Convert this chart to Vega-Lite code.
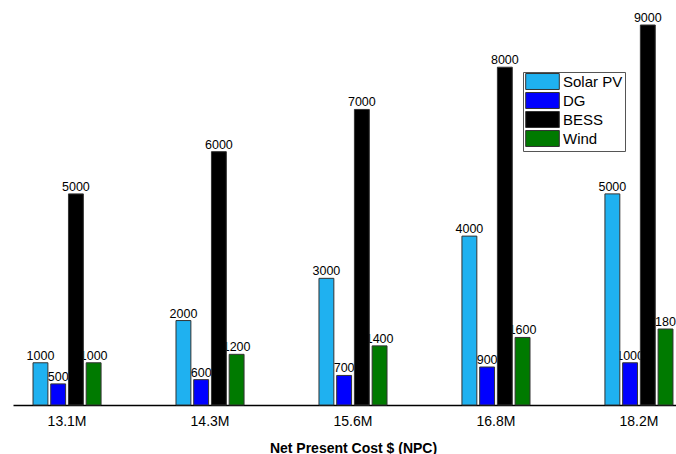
{
  "$schema": "https://vega.github.io/schema/vega-lite/v6.json",
  "width": 663,
  "height": 380,
  "autosize": {"type": "none"},
  "padding": {"left": 13, "top": 25, "right": 0, "bottom": 49},
  "background": "white",
  "data": {
    "values": [
      {"npc": "13.1M", "source": "Solar PV", "value": 1000, "label": "1000"},
      {"npc": "13.1M", "source": "DG", "value": 500, "label": "500"},
      {"npc": "13.1M", "source": "BESS", "value": 5000, "label": "5000"},
      {"npc": "13.1M", "source": "Wind", "value": 1000, "label": "1000"},
      {"npc": "14.3M", "source": "Solar PV", "value": 2000, "label": "2000"},
      {"npc": "14.3M", "source": "DG", "value": 600, "label": "600"},
      {"npc": "14.3M", "source": "BESS", "value": 6000, "label": "6000"},
      {"npc": "14.3M", "source": "Wind", "value": 1200, "label": "1200"},
      {"npc": "15.6M", "source": "Solar PV", "value": 3000, "label": "3000"},
      {"npc": "15.6M", "source": "DG", "value": 700, "label": "700"},
      {"npc": "15.6M", "source": "BESS", "value": 7000, "label": "7000"},
      {"npc": "15.6M", "source": "Wind", "value": 1400, "label": "1400"},
      {"npc": "16.8M", "source": "Solar PV", "value": 4000, "label": "4000"},
      {"npc": "16.8M", "source": "DG", "value": 900, "label": "900"},
      {"npc": "16.8M", "source": "BESS", "value": 8000, "label": "8000"},
      {"npc": "16.8M", "source": "Wind", "value": 1600, "label": "1600"},
      {"npc": "18.2M", "source": "Solar PV", "value": 5000, "label": "5000"},
      {"npc": "18.2M", "source": "DG", "value": 1000, "label": "1000"},
      {"npc": "18.2M", "source": "BESS", "value": 9000, "label": "9000"},
      {"npc": "18.2M", "source": "Wind", "value": 1800, "label": "180"}
    ]
  },
  "encoding": {
    "x": {
      "field": "npc",
      "type": "nominal",
      "sort": ["13.1M", "14.3M", "15.6M", "16.8M", "18.2M"],
      "scale": {"range": [0, 680], "paddingInner": 0.524, "paddingOuter": 0.14},
      "title": "Net Present Cost $ (NPC)",
      "axis": {
        "labelAngle": 0,
        "ticks": false,
        "domain": true,
        "domainColor": "black",
        "domainWidth": 1.5,
        "labelFont": "Liberation Sans",
        "labelFontSize": 14,
        "labelColor": "black",
        "labelPadding": 9,
        "titleFont": "Liberation Sans",
        "titleFontSize": 14,
        "titleFontWeight": "bold",
        "titleColor": "black",
        "titlePadding": 13,
        "grid": false
      }
    },
    "xOffset": {
      "field": "source",
      "type": "nominal",
      "sort": ["Solar PV", "DG", "BESS", "Wind"],
      "scale": {"paddingInner": 0.16, "paddingOuter": 0}
    },
    "y": {
      "field": "value",
      "type": "quantitative",
      "scale": {"domain": [0, 9000]},
      "axis": null
    }
  },
  "layer": [
    {
      "mark": {"type": "text", "baseline": "alphabetic", "dy": -3, "fontSize": 12.5, "font": "Liberation Sans", "color": "black"},
      "encoding": {"text": {"field": "label"}}
    },
    {
      "mark": {"type": "bar", "stroke": "#333333", "strokeWidth": 1},
      "encoding": {
        "color": {
          "field": "source",
          "type": "nominal",
          "sort": ["Solar PV", "DG", "BESS", "Wind"],
          "scale": {"domain": ["Solar PV", "DG", "BESS", "Wind"], "range": ["#1FB1F0", "#0000FF", "#000000", "#007A00"]},
          "legend": {
            "title": null,
            "orient": "none",
            "legendX": 510,
            "legendY": 47,
            "padding": 2,
            "strokeColor": "#555555",
            "fillColor": "white",
            "symbolType": "M-2.4,-1.14H2.4V1.14H-2.4Z",
            "symbolSize": 196,
            "symbolStrokeColor": "#333333",
            "symbolStrokeWidth": 1,
            "symbolOffset": 10,
            "labelOffset": 13,
            "labelFont": "Liberation Sans",
            "labelFontSize": 15,
            "labelColor": "black",
            "rowPadding": -2
          }
        }
      }
    }
  ],
  "config": {"view": {"stroke": null}}
}
